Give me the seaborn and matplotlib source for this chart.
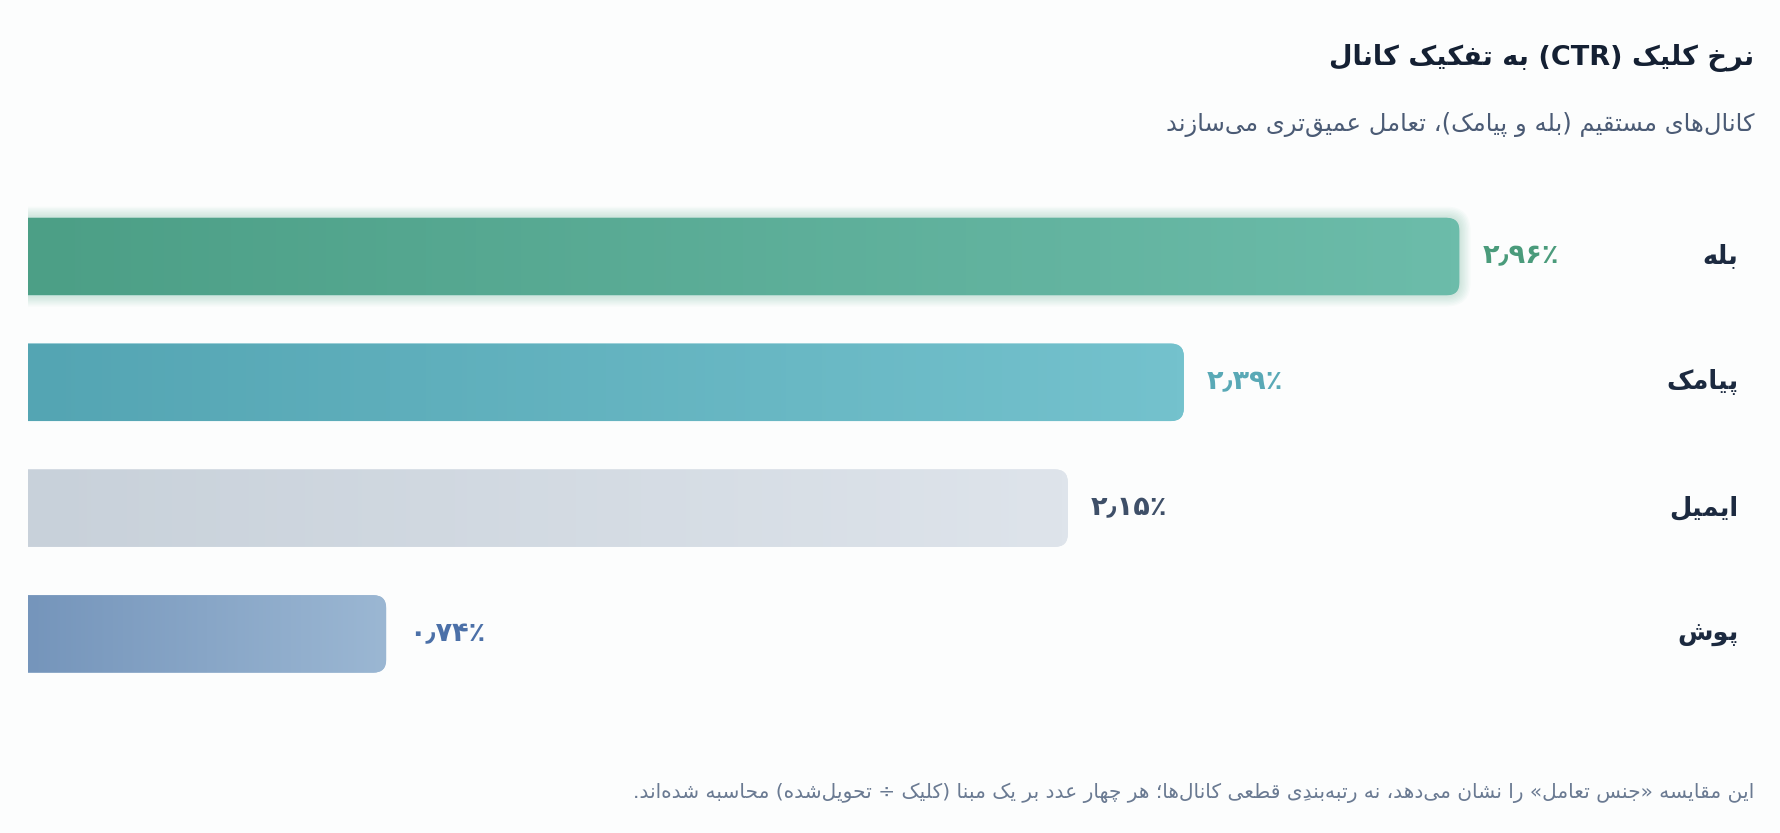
import numpy as np
import pandas as pd
import matplotlib
matplotlib.use("Agg")
import matplotlib.pyplot as plt
import matplotlib.transforms as mtransforms
from matplotlib.colors import LinearSegmentedColormap
from matplotlib.patches import FancyBboxPatch
import seaborn as sns

# Data
channels = ["بله", "پیامک", "ایمیل", "پوش"]
ctr = [2.96, 2.39, 2.15, 0.74]
ctr_labels = ["۲٫۹۶٪", "۲٫۳۹٪", "۲٫۱۵٪", "۰٫۷۴٪"]

title = "نرخ کلیک (CTR) به تفکیک کانال"
subtitle = "کانال\u200cهای مستقیم (بله و پیامک)، تعامل عمیق\u200cتری می\u200cسازند"
footnote = ("این مقایسه «جنس تعامل» را نشان می\u200cدهد، نه رتبه\u200cبندی\u0650 قطعی کانال\u200cها؛ "
            "هر چهار عدد بر یک مبنا (کلیک ÷ تحویل\u200cشده) محاسبه شده\u200cاند.")

bar_colors = [("#4c9f86", "#6cbcaa"), ("#54a5b3", "#74c2cd"),
              ("#c8d1da", "#dee4eb"), ("#7595bb", "#9bb7d3")]
label_colors = ["#4a9b7b", "#59a9b6", "#3e4f68", "#4b70a8"]

# --- minimal Persian shaping (matplotlib has no RTL shaping) ---
FORMS = {
    "ا": "\ufe8d\ufe8e", "آ": "\ufe81\ufe82", "د": "\ufea9\ufeaa", "ذ": "\ufeab\ufeac",
    "ر": "\ufead\ufeae", "ز": "\ufeaf\ufeb0", "ژ": "\ufb8a\ufb8b", "و": "\ufeed\ufeee",
    "ب": "\ufe8f\ufe90\ufe91\ufe92", "پ": "\ufb56\ufb57\ufb58\ufb59",
    "ت": "\ufe95\ufe96\ufe97\ufe98", "ث": "\ufe99\ufe9a\ufe9b\ufe9c",
    "ج": "\ufe9d\ufe9e\ufe9f\ufea0", "چ": "\ufb7a\ufb7b\ufb7c\ufb7d",
    "ح": "\ufea1\ufea2\ufea3\ufea4", "خ": "\ufea5\ufea6\ufea7\ufea8",
    "س": "\ufeb1\ufeb2\ufeb3\ufeb4", "ش": "\ufeb5\ufeb6\ufeb7\ufeb8",
    "ص": "\ufeb9\ufeba\ufebb\ufebc", "ض": "\ufebd\ufebe\ufebf\ufec0",
    "ط": "\ufec1\ufec2\ufec3\ufec4", "ظ": "\ufec5\ufec6\ufec7\ufec8",
    "ع": "\ufec9\ufeca\ufecb\ufecc", "غ": "\ufecd\ufece\ufecf\ufed0",
    "ف": "\ufed1\ufed2\ufed3\ufed4", "ق": "\ufed5\ufed6\ufed7\ufed8",
    "ک": "\ufb8e\ufb8f\ufb90\ufb91", "گ": "\ufb92\ufb93\ufb94\ufb95",
    "ل": "\ufedd\ufede\ufedf\ufee0", "م": "\ufee1\ufee2\ufee3\ufee4",
    "ن": "\ufee5\ufee6\ufee7\ufee8", "ه": "\ufee9\ufeea\ufeeb\ufeec",
    "ی": "\ufbfc\ufbfd\ufbfe\ufbff",
}
MARKS = set("\u064b\u064c\u064d\u064e\u064f\u0650\u0651\u0652")
MIRROR = {"(": ")", ")": "(", "«": "»", "»": "«", "[": "]", "]": "["}


def jtype(c):
    if c in FORMS:
        return "D" if len(FORMS[c]) == 4 else "R"
    return "T" if c in MARKS else "U"


def fa(text):
    n = len(text)
    shaped = []
    for i, c in enumerate(text):
        if c not in FORMS:
            shaped.append(c)
            continue
        j = i - 1
        while j >= 0 and jtype(text[j]) == "T":
            j -= 1
        k = i + 1
        while k < n and jtype(text[k]) == "T":
            k += 1
        jp = j >= 0 and jtype(text[j]) == "D"
        jn = len(FORMS[c]) == 4 and k < n and jtype(text[k]) in ("D", "R")
        f = FORMS[c]
        shaped.append(f[3] if jp and jn else f[1] if jp else f[2] if jn else f[0])
    shaped = [c for c in shaped if c != "\u200c"]
    # group base + marks, reverse for RTL
    clusters = []
    for c in shaped:
        if c in MARKS and clusters:
            clusters[-1] += c
        else:
            clusters.append(c)
    vis = [MIRROR.get(cl, cl) for cl in reversed(clusters)]
    # put LTR runs back in order
    out, run = [], []
    for cl in vis:
        if cl.isascii() and cl.isalnum():
            run.append(cl)
        else:
            out.extend(reversed(run))
            run = []
            out.append(cl)
    out.extend(reversed(run))
    return "".join(out)


sns.set_theme(style="white")
plt.rcParams["font.family"] = ["DejaVu Sans"]

fig = plt.figure(figsize=(17.81, 8.33), dpi=100, facecolor="#fcfdfd")
ax = fig.add_axes([0.016, 0.1635, 0.969, 0.604])
ax.set_facecolor("none")

df = pd.DataFrame({"channel": channels, "ctr": ctr})
sns.barplot(data=df, x="ctr", y="channel", hue="channel", palette=[c[1] for c in bar_colors],
            orient="h", width=0.616, legend=False, ax=ax)

xmax = 3.57
ax.set_xlim(0, xmax)
ax.set_ylim(3.5, -0.5)

# pixel -> data scale for round corners
xpp = xmax / (0.969 * 1781)
ypp = 4.0 / (0.604 * 833)
radius = 13 * xpp
asp = ypp / xpp

bars = list(ax.patches)
for i, p in enumerate(bars):
    x0, y0, w, h = p.get_x(), p.get_y(), p.get_width(), p.get_height()
    p.set_visible(False)
    left = -0.1
    if i == 0:
        # soft glow around the top bar
        for g in range(1, 9):
            pad = g * 1.4
            glow = FancyBboxPatch((left - pad * xpp, y0 - pad * ypp), w - left + 2 * pad * xpp,
                                  h + 2 * pad * ypp,
                                  boxstyle=f"round,pad=0,rounding_size={radius + pad * xpp}",
                                  mutation_aspect=asp, facecolor="#5aa98f", edgecolor="none",
                                  alpha=0.035, zorder=1)
            ax.add_patch(glow)
    shape = FancyBboxPatch((left, y0), w - left, h,
                           boxstyle=f"round,pad=0,rounding_size={radius}",
                           mutation_aspect=asp, facecolor=bar_colors[i][1],
                           edgecolor="none", zorder=2)
    ax.add_patch(shape)
    cmap = LinearSegmentedColormap.from_list(f"b{i}", bar_colors[i])
    grad = np.linspace(0, 1, 256).reshape(1, -1)
    im = ax.imshow(grad, cmap=cmap, extent=(0, w, y0 + h, y0), aspect="auto",
                   zorder=3, interpolation="bicubic")
    im.set_clip_path(shape)

ax.set_xlim(0, xmax)
ax.set_ylim(3.5, -0.5)
ax.axis("off")

# value labels
for i, (v, lab) in enumerate(zip(ctr, ctr_labels)):
    ax.text(v + 23 * xpp, i, lab, ha="left", va="center", fontsize=19.5,
            fontweight="bold", color=label_colors[i], zorder=5)

# channel names on the right
trans = mtransforms.blended_transform_factory(fig.transFigure, ax.transData)
for i, name in enumerate(channels):
    ax.text(0.976, i, fa(name), transform=trans, ha="right", va="center",
            fontsize=18.5, fontweight="bold", color="#1c2a40")

fig.text(0.985, 0.93, fa(title), ha="right", va="center", fontsize=19.5,
         fontweight="bold", color="#142033")
fig.text(0.985, 0.851, fa(subtitle), ha="right", va="center", fontsize=17.5,
         color="#4b5b75")
fig.text(0.985, 0.048, fa(footnote), ha="right", va="center", fontsize=14.5,
         color="#6a7a92")

plt.savefig("out.png", dpi=100, facecolor=fig.get_facecolor())
